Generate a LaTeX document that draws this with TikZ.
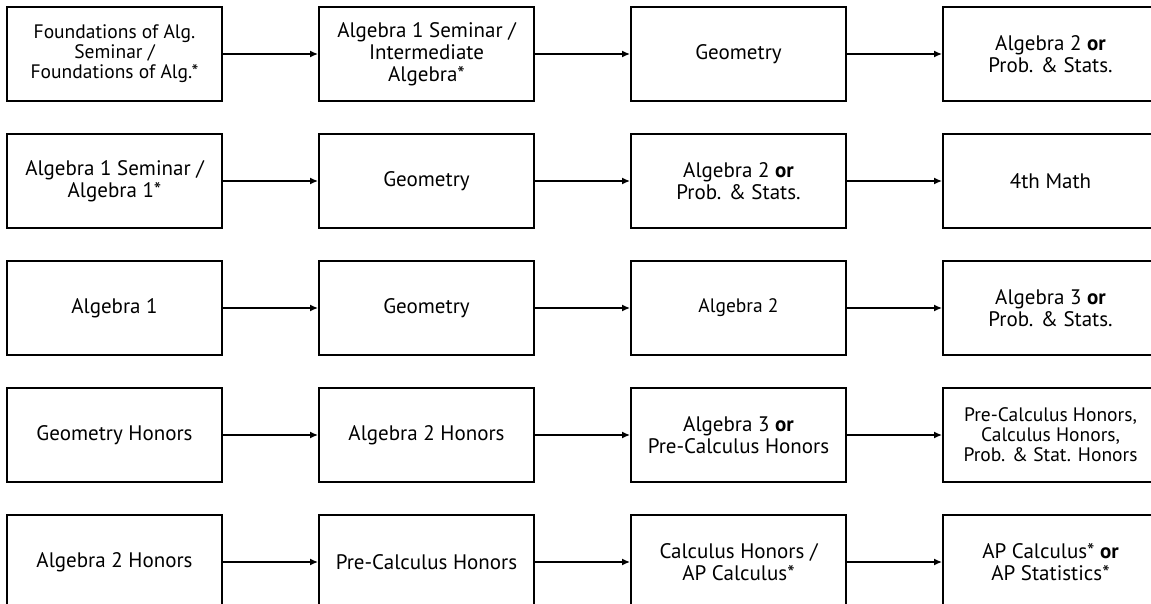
\documentclass[tikz,border=0pt]{standalone}
\usepackage{fontspec}
\setmainfont{PT Sans}
\usetikzlibrary{arrows.meta,positioning}
\tikzset{
    block/.style = {draw, rectangle, line width=1.8pt,
        minimum height=94pt,
        minimum width=215pt, inner sep=2pt, align=center,
        font=\fontsize{21}{22}\selectfont},
    small/.style = {font=\fontsize{19.5}{20}\selectfont},
    arrow/.style = {draw, line width=1.6pt, -{Latex[length=8pt,width=7pt]}}
}

\begin{document}
\begin{tikzpicture}[node distance=312pt]
    \useasboundingbox (0pt,0pt) rectangle (1151pt,-604pt);
    \clip (0pt,0pt) rectangle (1151pt,-604pt);
    % first path
    \node [block, small] (found1) at (114.5pt,-54pt) {Foundations of Alg.\\Seminar /\\Foundations of Alg.*};
    \node [block, right of=found1] (inter1) {Algebra 1 Seminar /\\Intermediate\\Algebra*};
    \node [block, right of=inter1] (geom1) {Geometry};
    \node [block, right of=geom1] (last1) {Algebra 2 \textbf{or}\\Prob. \& Stats.};
    \draw [arrow] (found1) -- (inter1);
    \draw [arrow] (inter1) -- (geom1);
    \draw [arrow] (geom1) -- (last1);
    % second path
    \node [block, below of=found1, node distance=127pt] (sem2) {Algebra 1 Seminar /\\Algebra 1*};
    \node [block, right of=sem2] (geom2) {Geometry};
    \node [block, right of=geom2] (alg2) {Algebra 2 \textbf{or}\\Prob. \& Stats.};
    \node [block, right of=alg2] (last2) {4th Math};
    \draw [arrow] (sem2) -- (geom2);
    \draw [arrow] (geom2) -- (alg2);
    \draw [arrow] (alg2) -- (last2);
    % third path
    \node [block, below of=sem2, node distance=127pt] (alg3) {Algebra 1};
    \node [block, right of=alg3] (geom3) {Geometry};
    \node [block, small, right of=geom3] (algtwo3) {Algebra 2};
    \node [block, right of=algtwo3] (last3) {Algebra 3 \textbf{or}\\Prob. \& Stats.};
    \draw [arrow] (alg3) -- (geom3);
    \draw [arrow] (geom3) -- (algtwo3);
    \draw [arrow] (algtwo3) -- (last3);
    % honors path
    \node [block, below of=alg3, node distance=127pt] (geomh4) {Geometry Honors};
    \node [block, right of=geomh4] (algh4) {Algebra 2 Honors};
    \node [block, right of=algh4] (pre4) {Algebra 3 \textbf{or}\\Pre-Calculus Honors};
    \node [block, small, right of=pre4] (last4) {Pre-Calculus Honors,\\Calculus Honors,\\Prob. \& Stat. Honors};
    \draw [arrow] (geomh4) -- (algh4);
    \draw [arrow] (algh4) -- (pre4);
    \draw [arrow] (pre4) -- (last4);
    % advanced path
    \node [block, below of=geomh4, node distance=127pt] (algh5) {Algebra 2 Honors};
    \node [block, right of=algh5] (pre5) {Pre-Calculus Honors};
    \node [block, right of=pre5] (calc5) {Calculus Honors /\\AP Calculus*};
    \node [block, right of=calc5] (last5) {AP Calculus* \textbf{or}\\AP Statistics*};
    \draw [arrow] (algh5) -- (pre5);
    \draw [arrow] (pre5) -- (calc5);
    \draw [arrow] (calc5) -- (last5);
\end{tikzpicture}
\end{document}
